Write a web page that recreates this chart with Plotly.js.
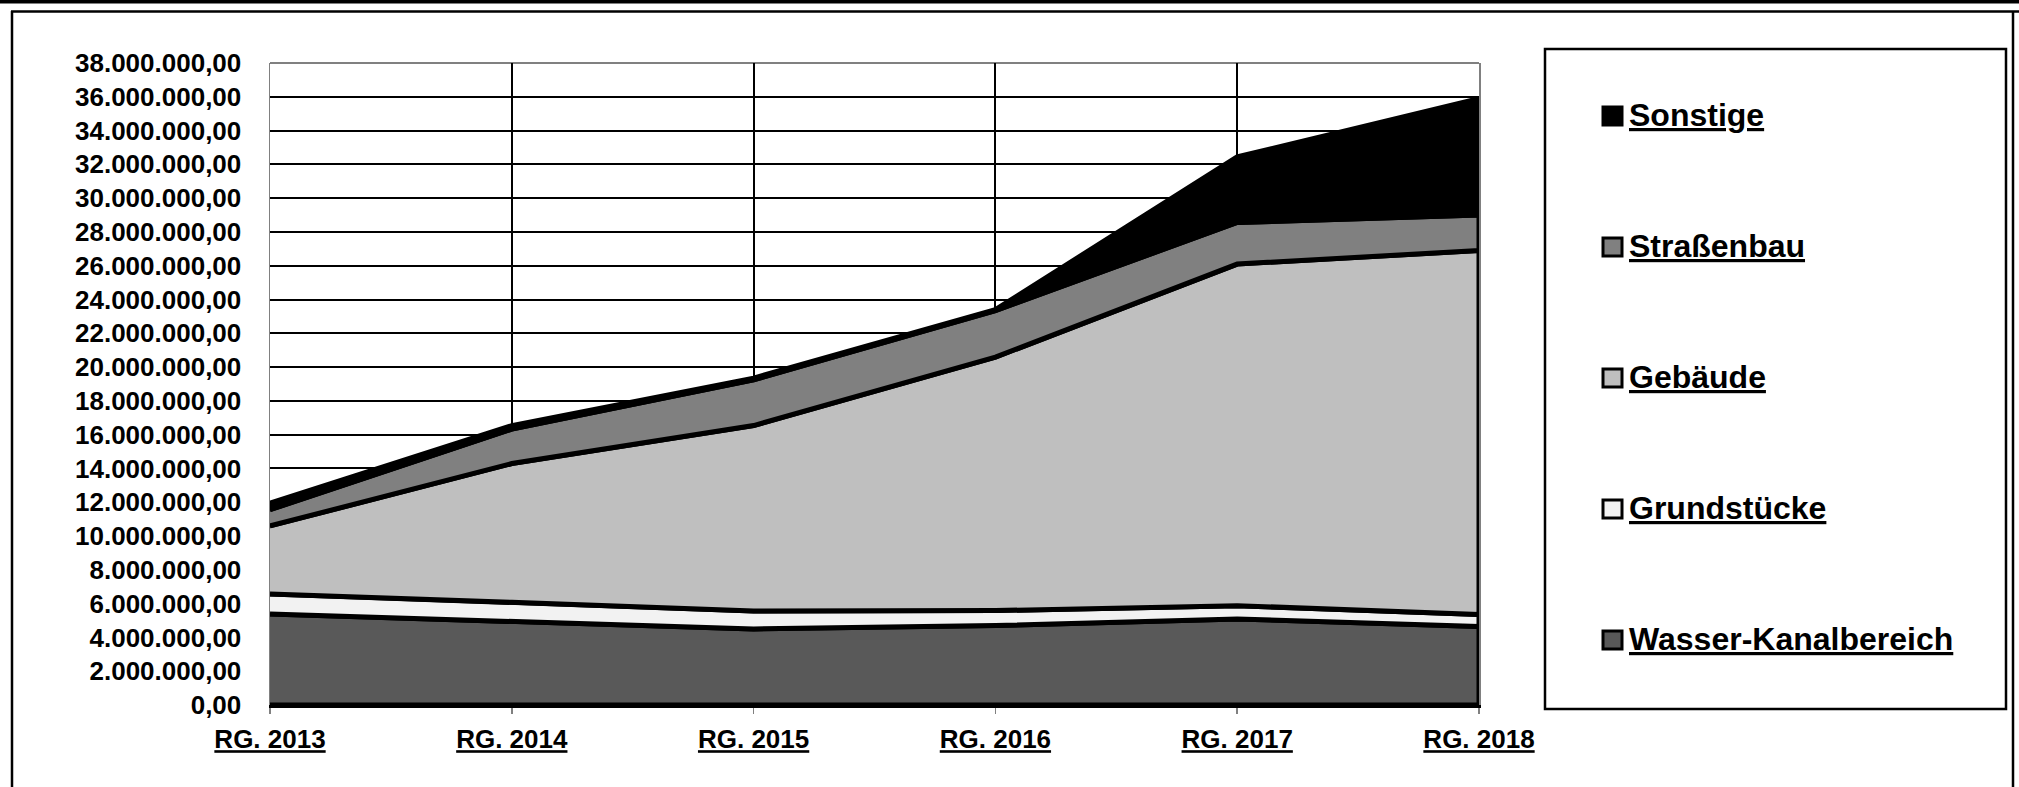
<!DOCTYPE html>
<html>
<head>
<meta charset="utf-8">
<script src="https://cdn.plot.ly/plotly-3.0.1.min.js"></script>
<style>
  html, body { margin: 0; padding: 0; background: #fff; }
  #chart { width: 2019px; height: 787px; }
</style>
</head>
<body>
<div id="chart"></div>
<script>
// ---- data ----
const years = ['RG. 2013', 'RG. 2014', 'RG. 2015', 'RG. 2016', 'RG. 2017', 'RG. 2018'];
const seriesNames = ['Wasser-Kanalbereich', 'Grundstücke', 'Gebäude', 'Straßenbau', 'Sonstige'];
const wasser       = [5390000, 4970000, 4500000, 4700000, 5090000, 4640000];
const grundstuecke = [1180000, 1110000, 1070000,  890000,  790000,  710000];
const gebaeude     = [4030000, 8210000, 10970000, 15000000, 20220000, 21550000];
const strassenbau  = [ 960000, 2040000, 2710000, 2760000, 2460000, 2100000];
const sonstige     = [ 390000,  210000,  100000,   50000, 3880000, 6900000];
const seriesColors = ['#595959', '#f2f2f2', '#bfbfbf', '#808080', '#000000'];
const yTickStep = 2000000;
const yMax = 38000000;

// ---- layout constants (pixels) ----
const W = 2019, H = 787;
const L = 270, R = 540, T = 63, B = 82;
const plotW = W - L - R, plotH = H - T - B;
const px = v => (v - L) / plotW;
const py = v => (H - B - v) / plotH;

const seriesValues = [wasser, grundstuecke, gebaeude, strassenbau, sonstige];

// build stacked polygons (closed outline like the spreadsheet area chart)
const traces = [];
let lower = years.map(() => 0);
seriesValues.forEach((vals, i) => {
  const upper = vals.map((v, k) => lower[k] + v);
  traces.push({
    type: 'scatter',
    mode: 'lines',
    name: seriesNames[i],
    x: years.concat(years.slice().reverse()),
    y: upper.concat(lower.slice().reverse()),
    fill: 'toself',
    fillcolor: seriesColors[i],
    line: { color: '#000000', width: 5 },
    hoverinfo: 'skip',
    showlegend: false
  });
  lower = upper;
});

// ---- shapes: frame, legend box, legend markers ----
const shapes = [
  // thick top rule
  { type: 'rect', xref: 'paper', yref: 'paper', x0: px(0), x1: px(W), y0: py(0), y1: py(3.5),
    fillcolor: '#000', line: { width: 0 }, layer: 'above' },
  // outer frame
  { type: 'line', xref: 'paper', yref: 'paper', x0: px(11), x1: px(W), y0: py(11.5), y1: py(11.5),
    line: { color: '#000', width: 2.5 } },
  { type: 'line', xref: 'paper', yref: 'paper', x0: px(12), x1: px(12), y0: py(11), y1: py(H + 5),
    line: { color: '#000', width: 2.5 } },
  { type: 'line', xref: 'paper', yref: 'paper', x0: px(2013), x1: px(2013), y0: py(11), y1: py(H + 5),
    line: { color: '#000', width: 2.5 } },
  // top border of plot area (gray)
  { type: 'line', xref: 'paper', yref: 'paper', x0: 0, x1: 1, y0: 1, y1: 1,
    line: { color: '#808080', width: 2 }, layer: 'below' },
  // legend box
  { type: 'rect', xref: 'paper', yref: 'paper', x0: px(1545), x1: px(2006), y0: py(49), y1: py(709),
    fillcolor: 'rgba(0,0,0,0)', line: { color: '#000', width: 2.5 } }
];

const annotations = [];
const legendOrder = [4, 3, 2, 1, 0];
legendOrder.forEach((si, j) => {
  const cy = 116 + j * 131;
  shapes.push({
    type: 'rect', xref: 'paper', yref: 'paper',
    x0: px(1603), x1: px(1622), y0: py(cy - 9), y1: py(cy + 9),
    fillcolor: seriesColors[si], line: { color: '#000', width: 3 }
  });
  annotations.push({
    xref: 'paper', yref: 'paper', x: px(1627), y: py(cy - 1),
    xanchor: 'left', yanchor: 'middle', showarrow: false,
    text: '<u>' + seriesNames[si] + '</u>',
    font: { family: 'Liberation Sans, Arial, sans-serif', size: 32, color: '#000', weight: 'bold' }
  });
});

const layout = {
  width: W, height: H,
  margin: { l: L, r: R, t: T, b: B, pad: 0 },
  paper_bgcolor: '#ffffff',
  plot_bgcolor: '#ffffff',
  separators: ',.',
  showlegend: false,
  font: { family: 'Liberation Sans, Arial, sans-serif', color: '#000' },
  xaxis: {
    type: 'category',
    range: [0, years.length - 1],
    tickmode: 'array',
    tickvals: years,
    ticktext: years.map(t => '<u>' + t + '</u>'),
    showgrid: true, gridcolor: '#000', gridwidth: 2,
    showline: true, linecolor: '#000', linewidth: 3, mirror: false,
    ticks: 'outside', ticklen: 6, tickwidth: 1.5, tickcolor: '#808080',
    ticklabelstandoff: 3,
    tickfont: { family: 'Liberation Sans, Arial, sans-serif', size: 26, color: '#000', weight: 'bold' },
    zeroline: false,
    layer: 'below traces',
    fixedrange: true
  },
  yaxis: {
    range: [0, yMax],
    tick0: 0, dtick: yTickStep,
    tickformat: ',.2f',
    showgrid: true, gridcolor: '#000', gridwidth: 2,
    showline: true, linecolor: '#808080', linewidth: 1.5, mirror: true,
    ticks: '',
    ticklabelstandoff: 22,
    tickfont: { family: 'Liberation Sans, Arial, sans-serif', size: 26, color: '#000', weight: 'bold' },
    zeroline: false,
    layer: 'below traces',
    fixedrange: true
  },
  shapes: shapes,
  annotations: annotations
};

Plotly.newPlot('chart', traces, layout, { staticPlot: true, displayModeBar: false });
</script>
</body>
</html>
